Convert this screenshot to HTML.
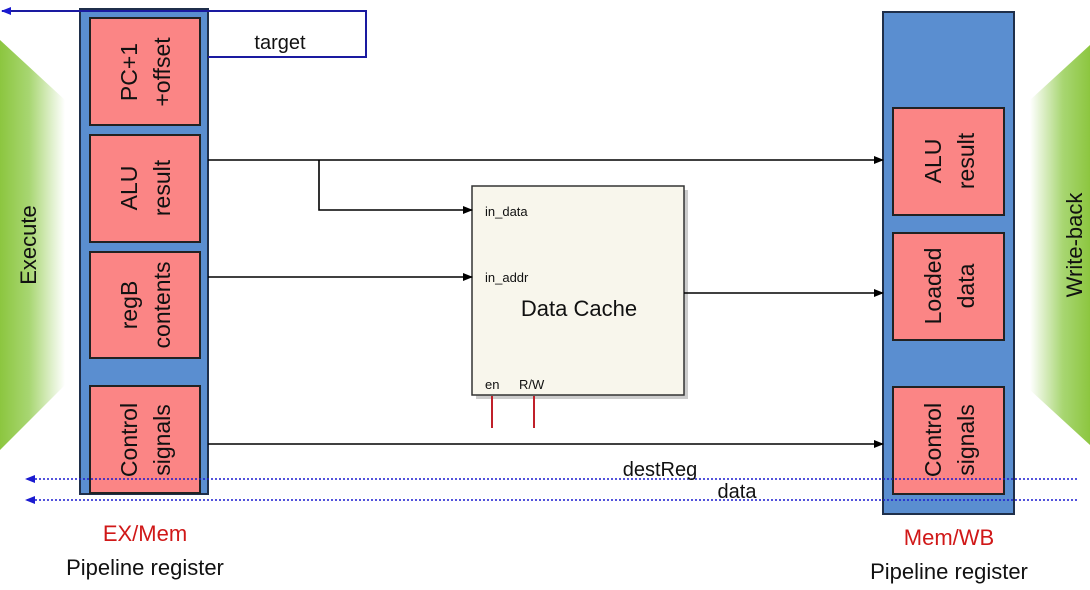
<!DOCTYPE html>
<html><head><meta charset="utf-8"><style>
html,body{margin:0;padding:0;background:#fff;}
svg{display:block;font-family:"Liberation Sans",sans-serif;}
</style></head><body>
<svg width="1090" height="590" viewBox="0 0 1090 590" xmlns="http://www.w3.org/2000/svg">
<defs>
<linearGradient id="gl" x1="0" x2="1" y1="0" y2="0"><stop offset="0" stop-color="#8cc63f"/><stop offset="0.45" stop-color="#a8d672"/><stop offset="1" stop-color="#ffffff"/></linearGradient>
<linearGradient id="gr" x1="1" x2="0" y1="0" y2="0"><stop offset="0" stop-color="#8cc63f"/><stop offset="0.45" stop-color="#a8d672"/><stop offset="1" stop-color="#ffffff"/></linearGradient>
<marker id="ab" markerWidth="10" markerHeight="10" refX="9" refY="5" orient="auto" markerUnits="userSpaceOnUse"><path d="M0,1 L10,5 L0,9 z" fill="#000"/></marker>
<marker id="au" markerWidth="10" markerHeight="10" refX="9" refY="5" orient="auto" markerUnits="userSpaceOnUse"><path d="M0,1 L10,5 L0,9 z" fill="#1a1ad0"/></marker>
</defs>
<polygon points="0,40 65,100 65,385 0,450" fill="url(#gl)"/>
<polygon points="1090,45 1030,100 1030,390 1090,445" fill="url(#gr)"/>
<text transform="translate(36,245) rotate(-90)" font-size="22" text-anchor="middle" fill="#111">Execute</text>
<text transform="translate(1082,245) rotate(-90)" font-size="22" text-anchor="middle" fill="#111">Write-back</text>

<rect x="80" y="9" width="128" height="485" fill="#5a8ed0" stroke="#1f2f4a" stroke-width="2"/>
<rect x="883" y="12" width="131" height="502" fill="#5a8ed0" stroke="#1f2f4a" stroke-width="2"/>
<g fill="#fb8585" stroke="#222" stroke-width="2">
<rect x="90" y="18" width="110" height="107"/>
<rect x="90" y="135" width="110" height="107"/>
<rect x="90" y="252" width="110" height="106"/>
<rect x="90" y="386" width="110" height="107"/>
<rect x="893" y="108" width="111" height="107"/>
<rect x="893" y="233" width="111" height="107"/>
<rect x="893" y="387" width="111" height="107"/>
</g>
<g font-size="23" fill="#111" text-anchor="middle">
<text transform="translate(137,72) rotate(-90)">PC+1</text>
<text transform="translate(170,72) rotate(-90)">+offset</text>
<text transform="translate(137,188) rotate(-90)">ALU</text>
<text transform="translate(170,188) rotate(-90)">result</text>
<text transform="translate(137,305) rotate(-90)">regB</text>
<text transform="translate(170,305) rotate(-90)">contents</text>
<text transform="translate(137,440) rotate(-90)">Control</text>
<text transform="translate(170,440) rotate(-90)">signals</text>
<text transform="translate(941,161) rotate(-90)">ALU</text>
<text transform="translate(974,161) rotate(-90)">result</text>
<text transform="translate(941,286) rotate(-90)">Loaded</text>
<text transform="translate(974,286) rotate(-90)">data</text>
<text transform="translate(941,440) rotate(-90)">Control</text>
<text transform="translate(974,440) rotate(-90)">signals</text>
</g>

<polyline points="208,57 366,57 366,11 2,11" fill="none" stroke="#1a1aa0" stroke-width="2" marker-end="url(#au)"/>
<text x="280" y="49" font-size="20" text-anchor="middle" fill="#111">target</text>

<rect x="476" y="190" width="212" height="209" fill="#999" opacity="0.5"/>
<rect x="472" y="186" width="212" height="209" fill="#f8f6ec" stroke="#333" stroke-width="1.5"/>
<text x="485" y="216" font-size="13" fill="#111">in_data</text>
<text x="485" y="282" font-size="13" fill="#111">in_addr</text>
<text x="579" y="316" font-size="22" text-anchor="middle" fill="#111">Data Cache</text>
<text x="485" y="389" font-size="13" fill="#111">en</text>
<text x="519" y="389" font-size="13" fill="#111">R/W</text>
<line x1="492" y1="396" x2="492" y2="428" stroke="#c0202a" stroke-width="2"/>
<line x1="534" y1="396" x2="534" y2="428" stroke="#c0202a" stroke-width="2"/>

<g stroke="#000" stroke-width="1.6" fill="none">
<line x1="208" y1="160" x2="883" y2="160" marker-end="url(#ab)"/>
<polyline points="319,160 319,210 472,210" marker-end="url(#ab)"/>
<line x1="208" y1="277" x2="472" y2="277" marker-end="url(#ab)"/>
<line x1="684" y1="293" x2="883" y2="293" marker-end="url(#ab)"/>
<line x1="208" y1="444" x2="883" y2="444" marker-end="url(#ab)"/>
</g>
<g stroke="#1a1ad0" stroke-width="1.6" stroke-dasharray="2,2" fill="none">
<line x1="1077" y1="479" x2="26" y2="479" marker-end="url(#au)"/>
<line x1="1077" y1="500" x2="26" y2="500" marker-end="url(#au)"/>
</g>
<text x="660" y="476" font-size="20" text-anchor="middle" fill="#111">destReg</text>
<text x="737" y="498" font-size="20" text-anchor="middle" fill="#111">data</text>

<text x="145" y="541" font-size="22" text-anchor="middle" fill="#d01818">EX/Mem</text>
<text x="145" y="575" font-size="22" text-anchor="middle" fill="#111">Pipeline register</text>
<text x="949" y="545" font-size="22" text-anchor="middle" fill="#d01818">Mem/WB</text>
<text x="949" y="579" font-size="22" text-anchor="middle" fill="#111">Pipeline register</text>
</svg>
</body></html>
